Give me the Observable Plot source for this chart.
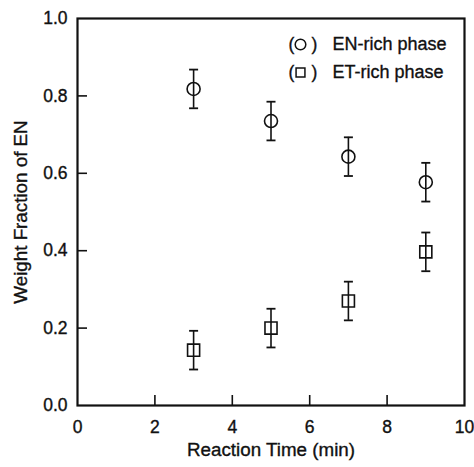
<!DOCTYPE html>
<html>
<head>
<meta charset="utf-8">
<script src="https://cdn.jsdelivr.net/npm/d3@7"></script>
<script src="https://cdn.jsdelivr.net/npm/@observablehq/plot@0.6"></script>
<style>
  html, body { margin: 0; padding: 0; background: #fff; }
</style>
</head>
<body>
<div id="chart"></div>
<script>
const times = [3, 5, 7, 9];
const enRich = [0.818, 0.735, 0.643, 0.577];
const enErr = [0.05, 0.05, 0.05, 0.05];
const etRich = [0.143, 0.200, 0.270, 0.397];
const etErr = [0.05, 0.05, 0.05, 0.05];
const xTicks = [0, 2, 4, 6, 8, 10];
const yTicks = [0, 0.2, 0.4, 0.6, 0.8, 1.0];
const seriesNames = ["EN-rich phase", "ET-rich phase"];
const xLabel = "Reaction Time (min)";
const yLabel = "Weight Fraction of EN";

const W = 474, H = 467;
const mL = 77, mR = 10, mT = 18, mB = 62;
const innerW = W - mL - mR, innerH = H - mT - mB;

const rows = [];
times.forEach((t, i) => {
  rows.push({t, v: enRich[i], e: enErr[i], s: seriesNames[0]});
  rows.push({t, v: etRich[i], e: etErr[i], s: seriesNames[1]});
});
const capSymbol = {draw(ctx) { ctx.moveTo(-4.5, 0); ctx.lineTo(4.5, 0); }};
const font = "'Liberation Sans', Arial, Helvetica, sans-serif";
const ink = "#111";

function legendRow(name, symbol, dy, r) {
  return [
    Plot.text(["("], {frameAnchor: "top-left", dx: 211, dy, text: d => d, fontSize: 17.5, lineAnchor: "middle"}),
    Plot.text([")"], {frameAnchor: "top-left", dx: 234, dy, text: d => d, fontSize: 17.5, lineAnchor: "middle"}),
    Plot.dot([name], {frameAnchor: "top-left", dx: 223, dy, symbol, r, stroke: ink, strokeWidth: 1.5, fill: "none"}),
    Plot.text([name], {frameAnchor: "top-left", dx: 255, dy, text: d => d, fontSize: 18, textAnchor: "start", lineAnchor: "middle"})
  ];
}

const chart = Plot.plot({
  width: W, height: H,
  marginLeft: mL, marginRight: mR, marginTop: mT, marginBottom: mB,
  style: {fontFamily: font, color: ink, background: "#fff"},
  x: {domain: [0, 10]},
  y: {domain: [0, 1]},
  marks: [
    Plot.axisX(xTicks, {tickSize: 0, tickPadding: 15, fontSize: 17.5, tickFormat: d3.format("d"),
      label: xLabel, labelAnchor: "center", labelArrow: "none", labelOffset: 50}),
    Plot.axisY(yTicks, {tickSize: 0, tickPadding: 10, fontSize: 17.5, tickFormat: d3.format(".1f"),
      label: yLabel, labelAnchor: "center", labelArrow: "none", labelOffset: 64}),
    Plot.tickX(xTicks.slice(1, -1), {x: d => d, insetTop: innerH - 10, stroke: ink, strokeWidth: 1.6}),
    Plot.tickY(yTicks.slice(1, -1), {y: d => d, insetRight: innerW - 10, stroke: ink, strokeWidth: 1.6}),
    Plot.ruleX(rows, {x: "t", y1: d => d.v - d.e, y2: d => d.v + d.e, stroke: ink, strokeWidth: 1.6}),
    Plot.dot(rows, {x: "t", y: d => d.v + d.e, symbol: () => capSymbol, stroke: ink, strokeWidth: 1.8}),
    Plot.dot(rows, {x: "t", y: d => d.v - d.e, symbol: () => capSymbol, stroke: ink, strokeWidth: 1.8}),
    Plot.dot(rows.filter(d => d.s === seriesNames[0]), {x: "t", y: "v", symbol: "circle", r: 6.5, stroke: ink, strokeWidth: 1.6, fill: "none"}),
    Plot.dot(rows.filter(d => d.s === seriesNames[1]), {x: "t", y: "v", symbol: "square", r: 6.8, stroke: ink, strokeWidth: 1.6, fill: "none"}),
    ...legendRow(seriesNames[0], "circle", 26, 5.3),
    ...legendRow(seriesNames[1], "square", 54, 5),
    Plot.frame({stroke: ink, strokeWidth: 2.2})
  ]
});
chart.querySelectorAll("[aria-label='x-axis label'], [aria-label='y-axis label']").forEach(g => {
  g.setAttribute("font-size", "18.8");
  g.querySelectorAll("text").forEach(t => t.setAttribute("font-size", "18.8"));
});
chart.querySelectorAll("text").forEach(t => {
  t.setAttribute("stroke", ink);
  t.setAttribute("stroke-width", "0.35");
});
document.getElementById("chart").appendChild(chart);
</script>
</body>
</html>
